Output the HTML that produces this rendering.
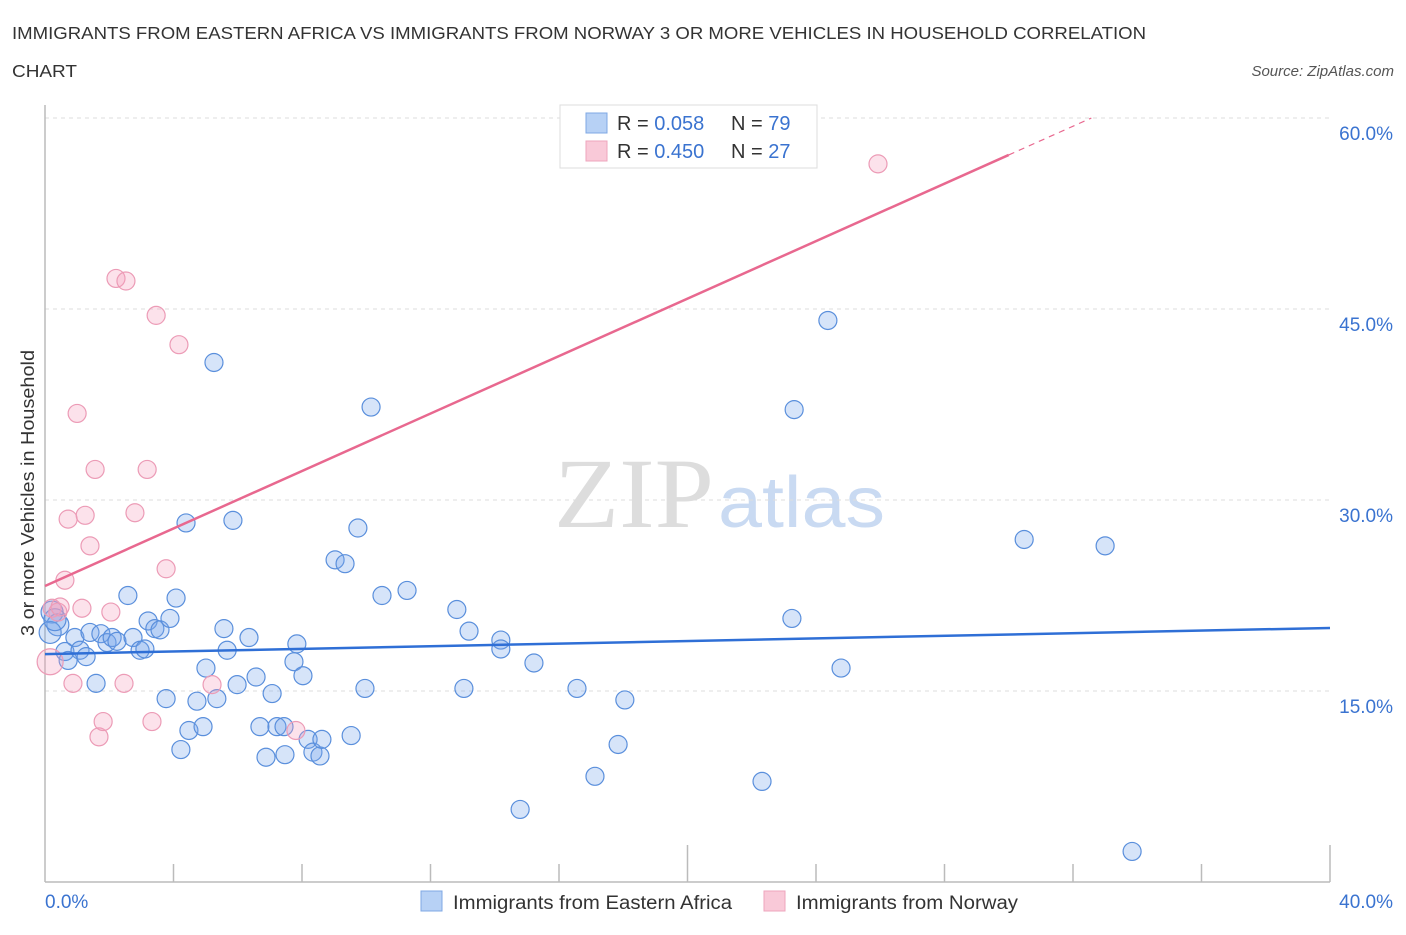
<!DOCTYPE html>
<html><head><meta charset="utf-8"><style>
body{margin:0;background:#fff;font-family:"Liberation Sans",sans-serif;}
</style></head><body>
<svg id="chart" width="1406" height="930" xmlns="http://www.w3.org/2000/svg">
<text x="12" y="39" font-size="17.5" fill="#333" textLength="1134" lengthAdjust="spacingAndGlyphs">IMMIGRANTS FROM EASTERN AFRICA VS IMMIGRANTS FROM NORWAY 3 OR MORE VEHICLES IN HOUSEHOLD CORRELATION</text>
<text x="12" y="77" font-size="17.5" fill="#333" textLength="65" lengthAdjust="spacingAndGlyphs">CHART</text>
<text x="1394" y="76" font-size="15" fill="#555" font-style="italic" text-anchor="end">Source: ZipAtlas.com</text>
<g>
<text x="714" y="527" font-size="100" font-family="Liberation Serif,serif" fill="#ddd" text-anchor="end" textLength="160" lengthAdjust="spacingAndGlyphs">ZIP</text>
<text x="718" y="527" font-size="72" fill="#c9daf2" textLength="167" lengthAdjust="spacingAndGlyphs">atlas</text>
</g>
<g id="grid"></g>
<g id="axes"></g>
<g id="pts"></g>
<g id="lines"></g>
<text transform="translate(34,493) rotate(-90)" font-size="18" fill="#333" text-anchor="middle" textLength="286" lengthAdjust="spacingAndGlyphs">3 or more Vehicles in Household</text>
<g>
<rect x="560" y="105" width="257" height="63" fill="#fff" stroke="#ddd"/>
<rect x="586" y="113" width="21" height="20" fill="#b7d1f5" stroke="#7fa8e4"/>
<rect x="586" y="141" width="21" height="20" fill="#f9c9d8" stroke="#eea5bd"/>
<text x="617" y="130" font-size="20" fill="#333">R = <tspan fill="#3a73d0">0.058</tspan><tspan x="731">N = </tspan><tspan fill="#3a73d0">79</tspan></text>
<text x="617" y="158" font-size="20" fill="#333">R = <tspan fill="#3a73d0">0.450</tspan><tspan x="731">N = </tspan><tspan fill="#3a73d0">27</tspan></text>
</g>
<g>
<rect x="421" y="891" width="21" height="20" fill="#b7d1f5" stroke="#7fa8e4"/>
<text x="453" y="909" font-size="19" fill="#333" textLength="279" lengthAdjust="spacingAndGlyphs">Immigrants from Eastern Africa</text>
<rect x="764" y="891" width="21" height="20" fill="#f9c9d8" stroke="#eea5bd"/>
<text x="796" y="909" font-size="19" fill="#333" textLength="222" lengthAdjust="spacingAndGlyphs">Immigrants from Norway</text>
</g>
</svg>
<script>
const blueX=[0.22,0.40,0.16,0.31,0.93,0.62,0.72,1.09,1.28,1.59,1.40,1.74,1.93,2.09,2.24,2.58,2.74,2.96,3.11,3.21,3.42,3.58,3.89,4.08,3.77,4.23,4.39,4.48,4.73,4.92,5.01,5.26,5.35,5.57,5.67,5.85,5.98,6.35,6.57,6.69,6.88,7.07,7.22,7.44,7.47,7.75,7.84,8.03,8.19,8.34,8.56,8.62,9.03,9.34,9.53,9.74,9.96,10.15,10.49,11.27,12.82,13.04,13.20,14.19,14.19,14.79,15.22,16.56,17.12,17.84,18.05,22.32,23.25,23.32,24.37,24.78,30.48,33.0,33.84];
const blueY=[21.2,20.2,19.6,20.6,19.2,18.1,17.4,18.2,17.7,15.6,19.6,19.5,18.8,19.2,18.9,22.5,19.2,18.2,18.3,20.5,19.9,19.8,20.7,22.3,14.4,10.4,28.2,11.9,14.2,12.2,16.8,40.8,14.4,19.9,18.2,28.4,15.5,19.2,16.1,12.2,9.8,14.8,12.2,12.2,10.0,17.3,18.7,16.2,11.2,10.2,9.9,11.2,25.3,25.0,11.5,27.8,15.2,37.3,22.5,22.9,21.4,15.2,19.7,19.0,18.3,5.7,17.2,15.2,8.3,10.8,14.3,7.9,20.7,37.1,44.1,16.8,26.9,26.4,2.4];
const pinkX=[0.22,0.40,0.16,0.62,0.72,0.87,1.0,1.25,1.15,1.40,1.56,1.68,1.81,2.05,2.21,2.52,2.46,2.80,3.18,3.33,3.46,3.77,4.17,5.20,7.81,25.93,0.47];
const pinkY=[21.5,21.2,17.3,23.7,28.5,15.6,36.8,28.8,21.5,26.4,32.4,11.4,12.6,21.2,47.4,47.2,15.6,29.0,32.4,12.6,44.5,24.6,42.2,15.5,11.9,56.4,21.6];
const blueTrend=[17.9,19.95];
const pinkTrend=[23.25,57.1];
const yTicks=[15,30,45,60];
const yTickLabels=["15.0%","30.0%","45.0%","60.0%"];
const xTickLabels=["0.0%","40.0%"];
const X=v=>45+v*32.125, Y=v=>882-v*12.733;
const NS="http://www.w3.org/2000/svg";
function mk(tag,attrs,parent){const e=document.createElementNS(NS,tag);for(const k in attrs)e.setAttribute(k,attrs[k]);document.getElementById(parent).appendChild(e);return e;}
yTicks.forEach((t,i)=>{
 const l=mk('line',{x1:45,x2:1330,y1:Y(t),y2:Y(t),stroke:'#ddd','stroke-dasharray':'4,4'},'grid');
 
 
 const tx=mk('text',{x:1393,y:Y(t)+22,'font-size':19,fill:'#3a73d0','text-anchor':'end'},'grid');
 tx.textContent=yTickLabels[i];
 
 
});
let a=mk('line',{x1:45,x2:45,y1:105,y2:882,stroke:'#bbb','stroke-width':1.5},'axes');


a=mk('line',{x1:45,x2:1330,y1:882,y2:882,stroke:'#bbb','stroke-width':1.5},'axes');


for(let i=1;i<=10;i++){
 const tall=(i==5||i==10);
 const t=mk('line',{x1:X(i*4),x2:X(i*4),y1:tall?845:864,y2:882,stroke:'#bbb','stroke-width':1.5},'axes');
 
 
}
[[0,'start',45],[40,'end',1393]].forEach((d,i)=>{
 const t=mk('text',{x:d[2],y:908,'font-size':19,fill:'#3a73d0','text-anchor':d[1]},'axes');
 t.textContent=xTickLabels[i];
 
 
});
blueX.forEach((x,i)=>{
 const c=mk('circle',{cx:X(x),cy:Y(blueY[i]),r:(i<4?11:9),fill:'rgba(120,165,235,0.3)',stroke:'#5a8fdc','stroke-width':1.2},'pts');
 
 
});
pinkX.forEach((x,i)=>{
 const c=mk('circle',{cx:X(x),cy:Y(pinkY[i]),r:(i==2?13:9),fill:'rgba(245,160,190,0.3)',stroke:'#ec9bb6','stroke-width':1.2},'pts');
 
 
});
let l=mk('line',{x1:X(0),y1:Y(blueTrend[0]),x2:X(40),y2:Y(blueTrend[1]),stroke:'#2f6fd6','stroke-width':2.5},'lines');


const slope=(pinkTrend[1]-pinkTrend[0])/30;
l=mk('line',{x1:X(0),y1:Y(pinkTrend[0]),x2:X(30),y2:Y(pinkTrend[1]),stroke:'#e8688f','stroke-width':2.5},'lines');


const xe=(60-pinkTrend[0])/slope;
l=mk('line',{x1:X(30),y1:Y(pinkTrend[1]),x2:X(xe),y2:Y(60),stroke:'#e8688f','stroke-width':1.2,'stroke-dasharray':'6,5'},'lines');


</script>
</body></html>
